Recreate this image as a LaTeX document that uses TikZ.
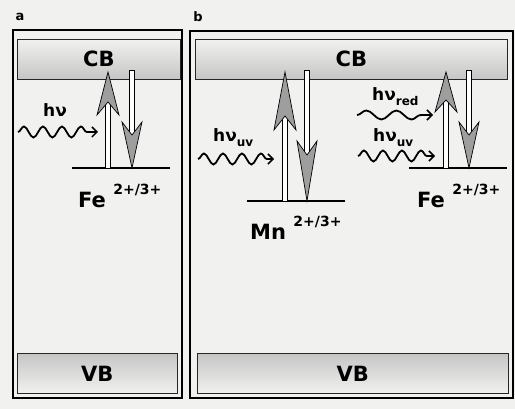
\documentclass[tikz,border=0pt]{standalone}
\usepackage{fontspec}
\setmainfont{DejaVu Sans}
\usetikzlibrary{calc, arrows.meta, positioning, decorations.pathmorphing}
\definecolor{paper}{RGB}{241,241,239}
\definecolor{headgray}{RGB}{158,158,158}
\tikzset{
  panel/.style={draw, line width=1.1pt},
  band/.style={draw=black!85, line width=0.7pt, inner sep=0pt, anchor=north west,
    minimum height=40pt, font=\bfseries\fontsize{21}{21}\selectfont},
  cbband/.style={band, top color=paper, bottom color=gray!45},
  vbband/.style={band, top color=gray!45, bottom color=paper},
  level/.style={line width=2.8pt},
  shaft/.style={double=white, double distance=4.5pt, line width=0.7pt, line cap=rect},
  head/.style={fill=headgray, draw, line width=0.7pt, line join=miter},
  photon/.style={line width=1.8pt, decorate,
    decoration={snake, amplitude=5.5pt, segment length=19pt, post length=7pt},
    -{Straight Barb[length=5pt, width=10pt, line width=1.5pt]}},
  ion/.style={font=\bfseries\fontsize{21}{21}\selectfont, inner sep=0pt, anchor=base west},
  charge/.style={font=\bfseries\fontsize{14}{14}\selectfont, inner sep=0pt, anchor=base west},
  hnu/.style={font=\bfseries\fontsize{17}{17}\selectfont, inner sep=0pt, anchor=base west},
  tag/.style={font=\bfseries\fontsize{13}{13}\selectfont, inner sep=0pt}
}
\newcommand{\sub}[1]{\raisebox{-5pt}{\fontsize{12}{12}\selectfont #1}}

\begin{document}
\begin{tikzpicture}[x=1pt, y=-1pt]
  \useasboundingbox[fill=paper] (0,0) rectangle (515,409);

  % panel a
  \node[tag] (tagA) at (20,17) {a};
  \draw[panel] (13,30) rectangle (182,398);
  \node[cbband, minimum width=163pt] (cbA) at (17,39) {CB};
  \node[vbband, minimum width=160pt] (vbA) at (17,353) {VB};

  \coordinate (lvlA-l) at (72,168);
  \coordinate (lvlA-r) at (170,168);
  \draw[level] (lvlA-l) -- (lvlA-r);

  \coordinate (upA-foot) at (108,166);
  \coordinate (upA-tip) at (108,72);
  \draw[shaft] (upA-foot) -- ($(upA-tip)+(0,32)$);
  \filldraw[head] (upA-tip) -- ++(-11,43) -- ++(11,-13) -- ++(11,13) -- cycle;

  \coordinate (dnA-top) at (132,73);
  \coordinate (dnA-tip) at (132,168);
  \draw[shaft] (dnA-top) -- ($(dnA-tip)+(0,-35)$);
  \filldraw[head] (dnA-tip) -- ++(-10,-46) -- ++(10,13) -- ++(10,-13) -- cycle;

  \node[hnu] (hnuA) at (43,117) {hν};
  \coordinate (phA-in) at (18,132);
  \coordinate (phA-out) at (98,132);
  \draw[photon] (phA-in) -- (phA-out);

  \node[ion] (feA) at (78,208) {Fe};
  \node[charge] (feA-q) at ([xshift=7pt, yshift=13pt]feA.base east) {2+/3+};

  % panel b
  \node[tag] (tagB) at (198,17) {b};
  \draw[panel] (190,31) rectangle (513,398);
  \node[cbband, minimum width=312pt] (cbB) at (195,39) {CB};
  \node[vbband, minimum width=311pt] (vbB) at (197,353) {VB};

  % Mn centre
  \coordinate (lvlMn-l) at (247,201);
  \coordinate (lvlMn-r) at (345,201);
  \draw[level] (lvlMn-l) -- (lvlMn-r);

  \coordinate (upMn-foot) at (285,199);
  \coordinate (upMn-tip) at (285,72);
  \draw[shaft] (upMn-foot) -- ($(upMn-tip)+(0,46)$);
  \filldraw[head] (upMn-tip) -- ++(-11,58) -- ++(11,-14) -- ++(11,14) -- cycle;

  \coordinate (dnMn-top) at (307,73);
  \coordinate (dnMn-tip) at (307,201);
  \draw[shaft] (dnMn-top) -- ($(dnMn-tip)+(0,-48)$);
  \filldraw[head] (dnMn-tip) -- ++(-10,-60) -- ++(10,14) -- ++(10,-14) -- cycle;

  \node[hnu] (hnuMn) at (213,142) {hν\sub{uv}};
  \coordinate (phMn-in) at (198,159);
  \coordinate (phMn-out) at (274,159);
  \draw[photon] (phMn-in) -- (phMn-out);

  \node[ion] (mn) at (250,240) {Mn};
  \node[charge] (mn-q) at ([xshift=7pt, yshift=13pt]mn.base east) {2+/3+};

  % Fe centre
  \coordinate (lvlFe-l) at (409,168);
  \coordinate (lvlFe-r) at (507,168);
  \draw[level] (lvlFe-l) -- (lvlFe-r);

  \coordinate (upFe-foot) at (446,166);
  \coordinate (upFe-tip) at (446,72);
  \draw[shaft] (upFe-foot) -- ($(upFe-tip)+(0,30)$);
  \filldraw[head] (upFe-tip) -- ++(-11,40) -- ++(11,-12) -- ++(11,12) -- cycle;

  \coordinate (dnFe-top) at (469,73);
  \coordinate (dnFe-tip) at (469,168);
  \draw[shaft] (dnFe-top) -- ($(dnFe-tip)+(0,-35)$);
  \filldraw[head] (dnFe-tip) -- ++(-10,-46) -- ++(10,13) -- ++(10,-13) -- cycle;

  \node[hnu] (hnuRed) at (372,101) {hν\sub{red}};
  \coordinate (phRed-in) at (357,115);
  \coordinate (phRed-out) at (433,115);
  \draw[photon, decoration={segment length=30pt, amplitude=4.5pt}] (phRed-in) -- (phRed-out);

  \node[hnu] (hnuUv) at (373,142) {hν\sub{uv}};
  \coordinate (phUv-in) at (358,156);
  \coordinate (phUv-out) at (435,156);
  \draw[photon] (phUv-in) -- (phUv-out);

  \node[ion] (feB) at (417,208) {Fe};
  \node[charge] (feB-q) at ([xshift=7pt, yshift=13pt]feB.base east) {2+/3+};
\end{tikzpicture}
\end{document}
